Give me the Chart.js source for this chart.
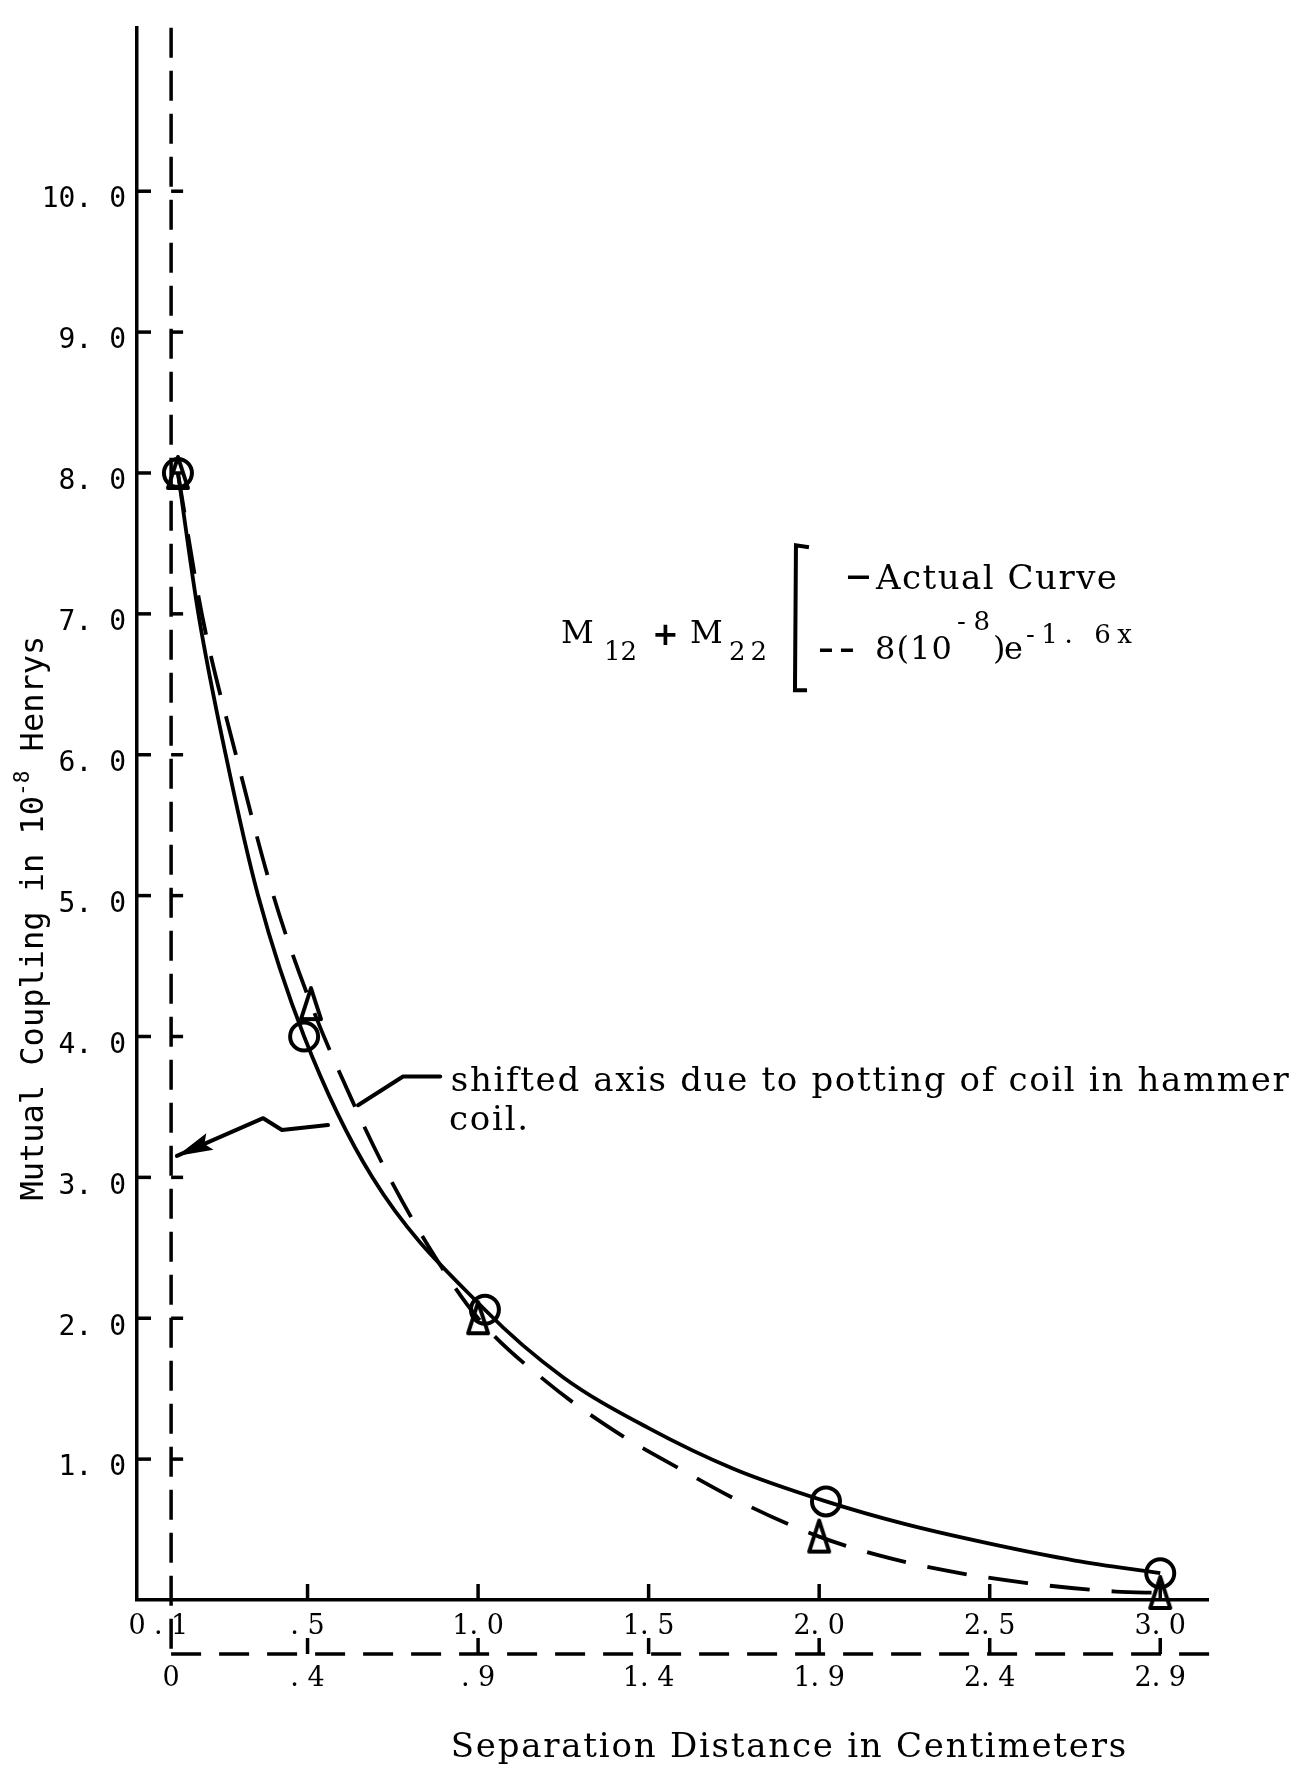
<!DOCTYPE html>
<html>
<head>
<meta charset="utf-8">
<title>Mutual Coupling vs Separation Distance</title>
<script src="https://cdn.jsdelivr.net/npm/chart.js@4.4.1/dist/chart.umd.min.js"></script>
<style>
  html, body { margin: 0; padding: 0; background: #fff; }
  #wrap { width: 1296px; height: 1768px; }
</style>
</head>
<body>
<div id="wrap"><canvas id="couplingChart" width="1296" height="1768"></canvas></div>
<script>
/* ------------------------------
 M12 + M22 mutual coupling vs separation
---------------------------------*/

// measured points (circles) and exponential fit points (triangles)
var actualX = [0.12, 0.49, 1.02, 2.02, 3.0];
var actualY = [8.0, 4.0, 2.06, 0.70, 0.19];
var theoryX = [0.12, 0.51, 1.0, 2.0, 3.0];
var theoryY = [8.0, 4.23, 2.0, 0.45, 0.05];

// hand drawn curves through them
var actualCurveX = [0.12, 0.18, 0.26, 0.355, 0.49, 0.69, 1.02, 1.25, 1.50, 1.75, 2.02, 2.25, 2.50, 2.75, 3.00];
var actualCurveY = [8.00, 7.00, 6.00, 5.00, 4.00, 3.00, 2.06, 1.58, 1.22, 0.93, 0.70, 0.54, 0.40, 0.28, 0.19];
var theoryCurveX = [0.12, 0.19, 0.29, 0.40, 0.51, 0.63, 0.74, 0.87, 1.00, 1.20, 1.40, 1.60, 1.80, 2.00, 2.17, 2.37, 2.61, 2.87, 3.00];
var theoryCurveY = [8.00, 7.00, 6.00, 5.00, 4.23, 3.55, 3.00, 2.45, 2.00, 1.55, 1.20, 0.92, 0.66, 0.45, 0.32, 0.21, 0.12, 0.06, 0.05];

// axes
var xTicks = [0, 0.1, 0.5, 1.0, 1.5, 2.0, 2.5, 3.0];
var xTickLabels = ["0", ". 1", ". 5", "1. 0", "1. 5", "2. 0", "2. 5", "3. 0"];
var shiftedTicks = [0.1, 0.5, 1.0, 1.5, 2.0, 2.5, 3.0];
var shiftedTickLabels = ["0", ". 4", ". 9", "1. 4", "1. 9", "2. 4", "2. 9"];
var yTicks = [1, 2, 3, 4, 5, 6, 7, 8, 9, 10];
var yTickLabels = ["1. 0", "2. 0", "3. 0", "4. 0", "5. 0", "6. 0", "7. 0", "8. 0", "9. 0", "10. 0"];

var shiftAxisAt = 0.1;   // potted coil moves the origin
var shiftAxisEnd = 3.19;

// arrow from the note to the shifted axis (data units)
var calloutA = [[0.889, 3.716], [0.780, 3.716], [0.648, 3.512]];
var calloutB = [[0.560, 3.371], [0.425, 3.336], [0.370, 3.420], [0.117, 3.152]];

function pts(xs, ys) {
  return xs.map(function (x, i) { return { x: x, y: ys[i] }; });
}

// tall open triangle used for the fitted values
function triangleMark() {
  var c = document.createElement("canvas");
  c.width = 28; c.height = 38;
  var g = c.getContext("2d");
  g.lineWidth = 4;
  g.lineJoin = "round";
  g.strokeStyle = "#000";
  g.beginPath();
  g.moveTo(14, 3); g.lineTo(24, 34); g.lineTo(4, 34); g.closePath();
  g.stroke();
  return c;
}

function seg(ctx, x1, y1, x2, y2) {
  ctx.beginPath(); ctx.moveTo(x1, y1); ctx.lineTo(x2, y2); ctx.stroke();
}

// draw text stretched to a given width with letter spacing
function fitText(ctx, str, x, yb, font, width) {
  ctx.font = font;
  ctx.letterSpacing = "0px";
  var w = ctx.measureText(str).width;
  var sp = str.length > 1 ? (width - w) / (str.length - 1) : 0;
  ctx.letterSpacing = sp + "px";
  ctx.fillText(str, x, yb);
  ctx.letterSpacing = "0px";
}

var sketch = {
  id: "sketch",
  beforeDatasetsDraw: function (chart) {
    var ctx = chart.ctx, a = chart.chartArea, xs = chart.scales.x, ys = chart.scales.y;
    var sx = xs.getPixelForValue(shiftAxisAt);
    var sy = a.bottom + 54;
    ctx.save();
    ctx.strokeStyle = "#000";
    ctx.lineWidth = 3.5;
    ctx.lineCap = "butt";

    // inward ticks on the main axes
    yTicks.forEach(function (v) {
      var p = ys.getPixelForValue(v);
      seg(ctx, a.left, p, a.left + 14, p);
      seg(ctx, sx, p, sx + 12, p);
    });
    xTicks.forEach(function (v) {
      if (v < 0.5) return;
      var p = xs.getPixelForValue(v);
      seg(ctx, p, a.bottom, p, a.bottom - 16);
    });

    // shifted axes
    ctx.setLineDash([30, 13]);
    seg(ctx, sx, a.top, sx, sy);
    ctx.setLineDash([30, 18]);
    seg(ctx, sx, sy, xs.getPixelForValue(shiftAxisEnd), sy);
    ctx.setLineDash([]);
    shiftedTicks.forEach(function (v, i) {
      if (i === 0) return;
      var p = xs.getPixelForValue(v);
      seg(ctx, p, sy, p, sy - 16);
    });
    ctx.restore();
  },
  afterDraw: function (chart) {
    var ctx = chart.ctx, a = chart.chartArea, xs = chart.scales.x, ys = chart.scales.y;
    var X = function (v) { return xs.getPixelForValue(v); };
    var Y = function (v) { return ys.getPixelForValue(v); };
    ctx.save();
    ctx.fillStyle = "#000";
    ctx.strokeStyle = "#000";

    // labels under the shifted axis
    ctx.font = "27px 'DejaVu Serif'";
    ctx.textAlign = "center";
    ctx.textBaseline = "middle";
    shiftedTicks.forEach(function (v, i) {
      ctx.fillText(shiftedTickLabels[i], X(v), a.bottom + 79);
    });

    ctx.textAlign = "left";
    ctx.textBaseline = "alphabetic";

    // x title
    fitText(ctx, "Separation Distance in Centimeters", X(0.92), a.bottom + 157,
      "34px 'DejaVu Serif'", X(2.9) - X(0.92));

    // y title, rotated
    ctx.save();
    ctx.translate(43, Y(4.84));
    ctx.rotate(-Math.PI / 2);
    var mono = "32px 'DejaVu Sans Mono'", monoSup = "21px 'DejaVu Sans Mono'";
    ctx.font = mono;
    var p1 = "Mutual Coupling in 10", p3 = " Henrys";
    var w1 = ctx.measureText(p1).width, w3 = ctx.measureText(p3).width;
    ctx.font = monoSup;
    var w2 = ctx.measureText("-8").width;
    var tx = -(w1 + w2 + w3) / 2;
    ctx.font = mono;
    ctx.fillText(p1, tx, 0);
    ctx.font = monoSup;
    ctx.fillText("-8", tx + w1, -14);
    ctx.font = mono;
    ctx.fillText(p3, tx + w1 + w2, 0);
    ctx.restore();

    // legend block: M12 + M22 [ actual / fit
    var lx = X(1.243), ly = Y(6.77);
    var serif = "32px 'DejaVu Serif'", sub = "26px 'DejaVu Serif'";
    fitText(ctx, "M", lx, ly - 3, serif, 28);
    fitText(ctx, "12", lx + 43, ly + 14, sub, 33);
    ctx.font = "bold 32px 'DejaVu Sans'";
    ctx.fillText("+", lx + 91, ly - 1);
    fitText(ctx, "M", lx + 129, ly - 3, serif, 30);
    fitText(ctx, "22", lx + 168, ly + 14, sub, 38);

    ctx.lineWidth = 4;
    ctx.beginPath();
    ctx.moveTo(lx + 248, ly - 99);
    ctx.lineTo(lx + 235, ly - 101);
    ctx.lineTo(lx + 234, ly + 44);
    ctx.lineTo(lx + 246, ly + 44);
    ctx.stroke();

    ctx.lineWidth = 3.5;
    seg(ctx, lx + 287, ly - 69, lx + 308, ly - 69);
    fitText(ctx, "Actual Curve", lx + 315, ly - 57, "34px 'DejaVu Serif'", 241);

    seg(ctx, lx + 259, ly + 4, lx + 271, ly + 4);
    seg(ctx, lx + 280, ly + 4, lx + 292, ly + 4);
    fitText(ctx, "8(10", lx + 314, ly + 13, serif, 77);
    fitText(ctx, "-8", lx + 396, ly - 16, sub, 33);
    fitText(ctx, ")e", lx + 432, ly + 13, serif, 30);
    fitText(ctx, "-1. 6x", lx + 465, ly - 3, sub, 106);

    // note about the shifted axis
    fitText(ctx, "shifted axis due to potting of coil in hammer", X(0.92), Y(3.615),
      "34px 'DejaVu Serif'", 838);
    fitText(ctx, "coil.", X(0.915), Y(3.335), "34px 'DejaVu Serif'", 79);

    ctx.lineWidth = 4;
    ctx.lineJoin = "round";
    ctx.lineCap = "round";
    [calloutA, calloutB].forEach(function (path) {
      ctx.beginPath();
      path.forEach(function (p, i) {
        if (i === 0) ctx.moveTo(X(p[0]), Y(p[1]));
        else ctx.lineTo(X(p[0]), Y(p[1]));
      });
      ctx.stroke();
    });
    // arrow head
    var tip = calloutB[calloutB.length - 1], prev = calloutB[calloutB.length - 2];
    var tx2 = X(tip[0]), ty2 = Y(tip[1]);
    var dx = X(prev[0]) - tx2, dy = Y(prev[1]) - ty2;
    var len = Math.sqrt(dx * dx + dy * dy);
    dx /= len; dy /= len;
    ctx.beginPath();
    ctx.moveTo(tx2, ty2);
    ctx.lineTo(tx2 + dx * 36 - dy * 9, ty2 + dy * 36 + dx * 9);
    ctx.lineTo(tx2 + dx * 30, ty2 + dy * 30);
    ctx.lineTo(tx2 + dx * 36 + dy * 9, ty2 + dy * 36 - dx * 9);
    ctx.closePath();
    ctx.fill();

    ctx.restore();
  }
};

Chart.defaults.color = "#000";
Chart.defaults.font.family = "'DejaVu Serif', serif";

var couplingChart = new Chart(document.getElementById("couplingChart"), {
  type: "line",
  data: {
    datasets: [
      {
        label: "Actual Curve",
        data: pts(actualCurveX, actualCurveY),
        borderColor: "#000",
        borderWidth: 3.8,
        pointRadius: 0,
        cubicInterpolationMode: "monotone",
        clip: false,
        order: 3,
      },
      {
        label: "8(10-8)e-1.6x",
        data: pts(theoryCurveX, theoryCurveY),
        borderColor: "#000",
        borderWidth: 3.8,
        borderDash: [40, 22],
        pointRadius: 0,
        cubicInterpolationMode: "monotone",
        clip: false,
        order: 2,
      },
      {
        label: "fit points",
        data: pts(theoryX, theoryY),
        showLine: false,
        pointStyle: triangleMark(),
        pointRadius: 14,
        clip: false,
        order: 1,
      },
      {
        label: "measured",
        data: pts(actualX, actualY),
        showLine: false,
        pointStyle: "circle",
        pointRadius: 14,
        pointBorderWidth: 4,
        pointBorderColor: "#000",
        pointBackgroundColor: "rgba(0,0,0,0)",
        clip: false,
        order: 0,
      },
    ],
  },
  options: {
    responsive: false,
    animation: false,
    devicePixelRatio: 1,
    layout: { padding: { top: 17, right: 88, left: 0, bottom: 0 } },
    plugins: { legend: { display: false }, tooltip: { enabled: false } },
    scales: {
      x: {
        type: "linear",
        min: 0,
        max: 3.14,
        afterBuildTicks: function (s) { s.ticks = xTicks.map(function (v) { return { value: v }; }); },
        afterFit: function (s) { s.height = 168; },
        grid: { display: false, drawTicks: false },
        border: { display: true, color: "#000", width: 3.5 },
        ticks: {
          padding: 11,
          autoSkip: false,
          maxRotation: 0,
          font: { family: "'DejaVu Serif'", size: 27 },
          callback: function (v, i) { return xTickLabels[i]; },
        },
      },
      y: {
        type: "linear",
        min: 0,
        max: 11.16,
        afterBuildTicks: function (s) { s.ticks = yTicks.map(function (v) { return { value: v }; }); },
        afterFit: function (s) { s.width = 137; },
        grid: { display: false, drawTicks: false },
        border: { display: true, color: "#000", width: 3.5 },
        ticks: {
          padding: 11,
          labelOffset: 9,
          font: { family: "'DejaVu Sans Mono'", size: 28 },
          callback: function (v, i) { return yTickLabels[i]; },
        },
      },
    },
  },
  plugins: [sketch],
});
</script>
</body>
</html>
